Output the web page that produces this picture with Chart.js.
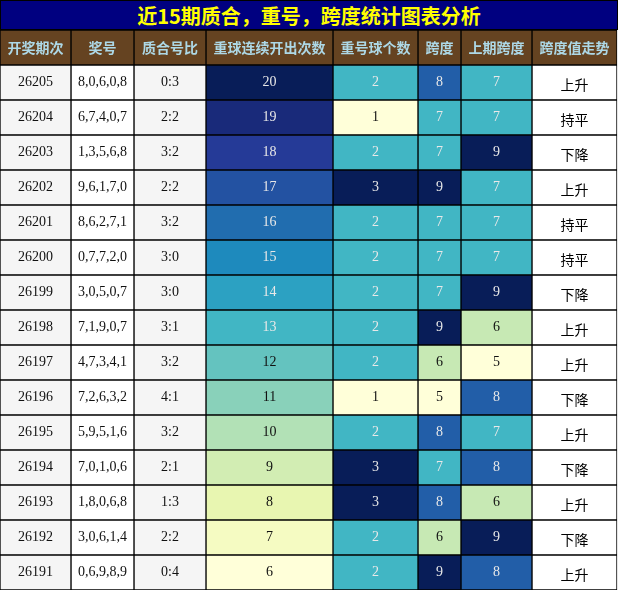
<!DOCTYPE html>
<html><head><meta charset="utf-8">
<script src="https://cdn.jsdelivr.net/npm/chart.js@4"></script>
<style>
body{margin:0;background:#fff;}
#title{width:618px;height:30px;background:#000080;color:#ffff00;font:bold 20px "Noto Sans CJK SC",sans-serif;text-align:center;line-height:30px;box-sizing:border-box;border:1px solid #000;}
#wrap{width:618px;height:560px;}
</style></head><body>
<div id="title">近15期质合，重号，跨度统计图表分析</div>
<div id="wrap"><canvas id="c" width="618" height="560"></canvas></div>
<script>
const headers = ["开奖期次","奖号","质合号比","重球连续开出次数","重号球个数","跨度","上期跨度","跨度值走势"];
const issues = ["26205","26204","26203","26202","26201","26200","26199","26198","26197","26196","26195","26194","26193","26192","26191"];
const numbers = ["8,0,6,0,8","6,7,4,0,7","1,3,5,6,8","9,6,1,7,0","8,6,2,7,1","0,7,7,2,0","3,0,5,0,7","7,1,9,0,7","4,7,3,4,1","7,2,6,3,2","5,9,5,1,6","7,0,1,0,6","1,8,0,6,8","3,0,6,1,4","0,6,9,8,9"];
const ratios = ["0:3","2:2","3:2","2:2","3:2","3:0","3:0","3:1","3:2","4:1","3:2","2:1","1:3","2:2","0:4"];
const streak = [20,19,18,17,16,15,14,13,12,11,10,9,8,7,6];
const repeatCount = [2,1,2,3,2,2,2,2,2,1,2,3,3,2,2];
const span = [8,7,7,9,7,7,7,9,6,5,8,7,8,6,9];
const prevSpan = [7,7,9,7,7,7,9,6,5,8,7,8,6,9,8];
const trend = ["上升","持平","下降","上升","持平","持平","下降","上升","上升","下降","上升","下降","上升","下降","上升"];

const edges = [0,71,134,206,333,418,461,532,617];
const stops = ['#ffffd9','#edf8b1','#c7e9b4','#7fcdbb','#41b6c4','#1d91c0','#225ea8','#253494','#081d58'];
function hex(h){return [1,3,5].map(i=>parseInt(h.substr(i,2),16));}
function ylgnbu(t){t=Math.max(0,Math.min(1,t));const p=t*8,i=Math.min(7,Math.floor(p)),f=p-i;
  const a=hex(stops[i]),b=hex(stops[i+1]);return 'rgb('+a.map((v,k)=>Math.round(v+(b[k]-v)*f)).join(',')+')';}
function norm(arr,v){const mn=Math.min(...arr),mx=Math.max(...arr);return (v-mn)/(mx-mn);}

const rowLabels = ["h"].concat(issues);
const columns = [
  {text:issues, bg:()=>'#f5f5f5'},
  {text:numbers, bg:()=>'#ffffff'},
  {text:ratios, bg:()=>'#f5f5f5'},
  {text:streak, num:streak},
  {text:repeatCount, num:repeatCount, range:[1,3]},
  {text:span, num:span, range:[5,9]},
  {text:prevSpan, num:prevSpan, range:[5,9]},
  {text:trend, bg:()=>'#ffffff', cjk:true}
];
function tOf(col,v){ if(col.range) return (v-col.range[0])/(col.range[1]-col.range[0]); return norm(col.num,v);}
const datasets = columns.map((col,ci)=>({
  data: rowLabels.map(()=>[edges[ci],edges[ci+1]]),
  backgroundColor: rowLabels.map((r,ri)=>{ if(ri===0) return '#654321'; const i=ri-1;
     return col.num? ylgnbu(tOf(col,col.num[i])) : col.bg(i);}),
  borderColor:'#000', borderWidth:1, borderSkipped:false,
  barPercentage:1, categoryPercentage:1, grouped:false
}));
const textPlugin = {id:'txt', afterDatasetsDraw(chart){
  const ctx=chart.ctx; ctx.save(); ctx.textAlign='center'; ctx.textBaseline='middle';
  chart.data.datasets.forEach((ds,ci)=>{ const col=columns[ci];
    chart.getDatasetMeta(ci).data.forEach((el,ri)=>{
      const x=(el.x+el.base)/2, y=el.y;
      if(ri===0){ctx.fillStyle='#add8e6'; ctx.font='bold 14px "Noto Sans CJK SC",sans-serif'; ctx.fillText(headers[ci],x,y); return;}
      const i=ri-1;
      if(col.cjk){ctx.fillStyle='#000'; ctx.font='14px "Noto Sans CJK SC",sans-serif'; ctx.fillText(col.text[i],x,y+2); return;}
      ctx.font='14px "Liberation Serif",serif';
      ctx.fillStyle = col.num && tOf(col,col.num[i])>=0.5 ? '#e8e8e8' : '#111';
      ctx.fillText(String(col.text[i]),x,y);
    });
  }); ctx.restore();
}};
new Chart(document.getElementById('c'),{
  type:'bar',
  data:{labels:rowLabels, datasets},
  options:{indexAxis:'y', responsive:false, animation:false,
    layout:{padding:0},
    plugins:{legend:{display:false}, tooltip:{enabled:false}},
    scales:{x:{type:'linear',min:0,max:618,display:false}, y:{display:false, stacked:false}}
  },
  plugins:[textPlugin]
});
</script></body></html>
